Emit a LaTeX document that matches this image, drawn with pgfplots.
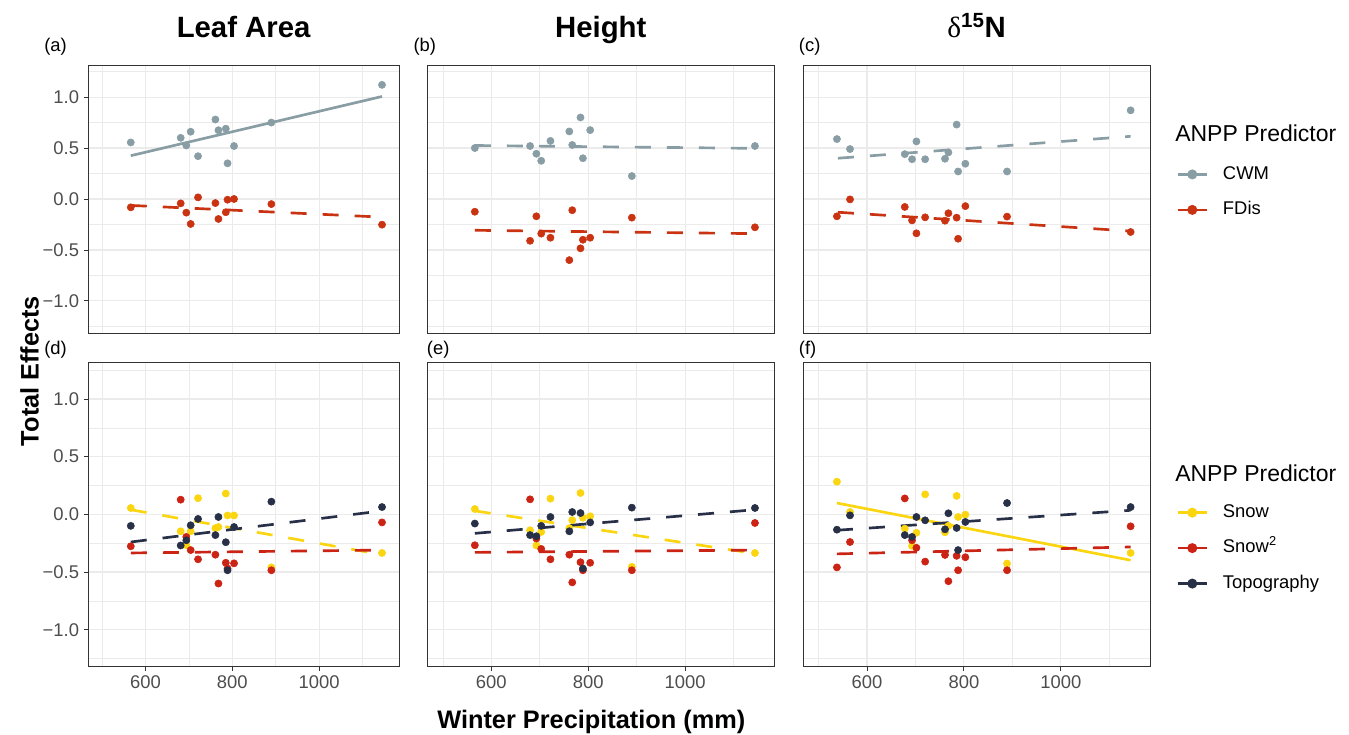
\documentclass[border=0pt]{standalone}
\usepackage{fontspec}
\setmainfont{Liberation Sans}
\newfontfamily\greekserif{Liberation Serif}
\usepackage{pgfplots}
\usepackage{pgfplotstable}
\pgfplotsset{compat=1.18}

\definecolor{cwm}{HTML}{899DA4}
\definecolor{fdis}{HTML}{C93312}
\definecolor{snow}{HTML}{FAD510}
\definecolor{snowsq}{HTML}{CB2314}
\definecolor{topo}{HTML}{273046}
\definecolor{gridc}{HTML}{EBEBEB}
\definecolor{borderc}{HTML}{333333}
\definecolor{tickc}{HTML}{4D4D4D}

% panel (a)-(c): x, CWM, FDis
\pgfplotstableread{
x cwm fdis
566 0.555 -0.082
681 0.600 -0.043
694 0.525 -0.134
704 0.660 -0.245
721 0.420 0.016
761 0.780 -0.040
768 0.675 -0.196
785 0.690 -0.130
789 0.350 -0.007
804 0.520 0.000
890 0.750 -0.050
1145 1.120 -0.252
}\tabA
\pgfplotstableread{
x cwm fdis
566 0.500 -0.125
680 0.520 -0.410
693 0.444 -0.170
703 0.375 -0.340
722 0.570 -0.380
761 0.663 -0.600
767 0.530 -0.110
784 0.800 -0.484
789 0.400 -0.400
804 0.676 -0.380
890 0.225 -0.183
1144 0.520 -0.278
}\tabB
\pgfplotstableread{
x cwm fdis
538 0.588 -0.170
565 0.490 -0.004
678 0.440 -0.078
693 0.390 -0.210
702 0.565 -0.337
720 0.390 -0.180
761 0.395 -0.213
768 0.457 -0.140
785 0.730 -0.183
788 0.270 -0.390
803 0.346 -0.070
889 0.270 -0.173
1144 0.870 -0.324
}\tabC
% panels (d)-(f): x, Snow, Snow^2, Topography
\pgfplotstableread{
x snow snowsq topo
566 0.055 -0.277 -0.100
681 -0.147 0.127 -0.270
694 -0.268 -0.196 -0.225
704 -0.147 -0.310 -0.095
721 0.140 -0.390 -0.040
761 -0.120 -0.350 -0.180
768 -0.110 -0.600 -0.023
785 0.180 -0.420 -0.242
789 -0.010 -0.470 -0.485
804 -0.010 -0.425 -0.110
890 -0.460 -0.485 0.110
1145 -0.335 -0.070 0.063
}\tabD
\pgfplotstableread{
x snow snowsq topo
566 0.046 -0.268 -0.080
680 -0.138 0.130 -0.180
693 -0.270 -0.210 -0.190
703 -0.153 -0.300 -0.100
722 0.136 -0.390 -0.023
761 -0.120 -0.350 -0.147
767 -0.050 -0.590 0.020
784 0.185 -0.415 0.011
789 -0.030 -0.485 -0.470
804 -0.017 -0.420 -0.070
890 -0.455 -0.485 0.058
1144 -0.335 -0.075 0.055
}\tabE
\pgfplotstableread{
x snow snowsq topo
538 0.283 -0.460 -0.133
565 0.020 -0.240 -0.009
678 -0.124 0.138 -0.180
693 -0.274 -0.225 -0.196
702 -0.160 -0.290 -0.023
720 0.173 -0.410 -0.052
761 -0.156 -0.352 -0.130
768 -0.100 -0.580 0.009
785 0.160 -0.360 -0.118
788 -0.023 -0.485 -0.310
803 -0.003 -0.372 -0.066
889 -0.427 -0.485 0.098
1144 -0.335 -0.104 0.063
}\tabF

\newcommand{\ticksize}{\fontsize{13.8}{16}\selectfont}

\pgfplotsset{
  panel/.style={
    scale only axis, width=260.25pt,
    xmin=468, xmax=1184, ymin=-1.315, ymax=1.315,
    xtick={600,800,1000}, ytick={-1,-0.5,0,0.5,1},
    minor xtick={500,700,900,1100},
    minor ytick={-1.25,-0.75,-0.25,0.25,0.75,1.25},
    grid=both,
    major grid style={color=gridc, line width=0.85pt},
    minor grid style={color=gridc, line width=0.45pt},
    axis line style={color=borderc, line width=0.65pt},
    tick align=outside, major tick length=3.4pt, minor tick length=0pt,
    xtick style={draw=none}, ytick style={draw=none},
    xticklabels={}, yticklabels={},
    xtick pos=bottom, ytick pos=left,
    tick label style={font=\ticksize, text=tickc},
    anchor=south west, clip=false,
    legend cell align=left,
    legend style={draw=none, fill=none, font=\ticksize, inner sep=0pt,
      nodes={inner sep=0pt, text height=10pt, text depth=3pt},
      column sep=11pt, row sep=13.6pt},
    legend image code/.code={
      \draw[#1, mark repeat=2, mark phase=2] plot coordinates {(0pt,0pt) (11pt,0pt) (22pt,0pt)};},
  },
  top/.style={height=201pt},
  bottom/.style={height=227.5pt, xticklabels={600,800,1000},
    xtick style={draw=borderc, line width=0.65pt}},
  left/.style={width=233pt, yticklabels={−1.0,−0.5,0.0,0.5,1.0},
    ytick style={draw=borderc, line width=0.65pt}},
  pts/.style={only marks, mark=*, mark size=2.7pt, forget plot},
  fit/.style={no marks, line width=2pt, forget plot},
  ggdash/.style={dash pattern=on 12pt off 12pt},
}

\begin{document}
\begin{tikzpicture}
\path[use as bounding box] (0,0) rectangle (1011.75pt,551.25pt);

% (a) Leaf Area, top
\begin{axis}[panel, top, left, at={(66.2pt,301.5pt)}]
\addplot[pts, color=cwm] table[x=x, y=cwm] {\tabA};
\addplot[pts, color=fdis] table[x=x, y=fdis] {\tabA};
\addplot[fit, color=cwm] coordinates {(566,0.425) (1145,1.006)};
\addplot[fit, ggdash, color=fdis] coordinates {(566,-0.063) (1145,-0.178)};
\end{axis}

% (b) Height, top
\begin{axis}[panel, top, at={(320.5pt,301.5pt)}]
\addplot[pts, color=cwm] table[x=x, y=cwm] {\tabB};
\addplot[pts, color=fdis] table[x=x, y=fdis] {\tabB};
\addplot[fit, ggdash, color=cwm] coordinates {(566,0.525) (1144,0.497)};
\addplot[fit, ggdash, color=fdis] coordinates {(566,-0.307) (1144,-0.340)};
\end{axis}

% (c) d15N, top
\begin{axis}[panel, top, at={(602.25pt,301.5pt)},
  legend style={at={(1.075,0.625)}, anchor=north west}]
\addplot[pts, color=cwm] table[x=x, y=cwm] {\tabC};
\addplot[pts, color=fdis] table[x=x, y=fdis] {\tabC};
\addplot[fit, ggdash, color=cwm] coordinates {(540,0.400) (1144,0.615)};
\addplot[fit, ggdash, color=fdis] coordinates {(540,-0.130) (1144,-0.315)};
\addlegendimage{color=cwm, line width=2pt, mark=*, mark size=2.7pt}
\addlegendentry{CWM}
\addlegendimage{color=fdis, line width=2pt, mark=*, mark size=2.7pt}
\addlegendentry{FDis}
\end{axis}

% (d) Leaf Area, bottom
\begin{axis}[panel, bottom, left, at={(66.2pt,51.75pt)}]
\addplot[pts, color=snow] table[x=x, y=snow] {\tabD};
\addplot[pts, color=snowsq] table[x=x, y=snowsq] {\tabD};
\addplot[pts, color=topo] table[x=x, y=topo] {\tabD};
\addplot[fit, ggdash, color=snow] coordinates {(566,0.040) (1145,-0.350)};
\addplot[fit, ggdash, color=snowsq] coordinates {(566,-0.335) (1145,-0.310)};
\addplot[fit, ggdash, color=topo] coordinates {(566,-0.240) (1145,0.030)};
\end{axis}

% (e) Height, bottom
\begin{axis}[panel, bottom, at={(320.5pt,51.75pt)}]
\addplot[pts, color=snow] table[x=x, y=snow] {\tabE};
\addplot[pts, color=snowsq] table[x=x, y=snowsq] {\tabE};
\addplot[pts, color=topo] table[x=x, y=topo] {\tabE};
\addplot[fit, ggdash, color=snow] coordinates {(566,0.030) (1144,-0.340)};
\addplot[fit, ggdash, color=snowsq] coordinates {(566,-0.330) (1144,-0.310)};
\addplot[fit, ggdash, color=topo] coordinates {(566,-0.165) (1144,0.040)};
\end{axis}

% (f) d15N, bottom
\begin{axis}[panel, bottom, at={(602.25pt,51.75pt)},
  legend style={at={(1.075,0.535)}, anchor=north west}]
\addplot[pts, color=snow] table[x=x, y=snow] {\tabF};
\addplot[pts, color=snowsq] table[x=x, y=snowsq] {\tabF};
\addplot[pts, color=topo] table[x=x, y=topo] {\tabF};
\addplot[fit, color=snow] coordinates {(538,0.098) (1144,-0.398)};
\addplot[fit, ggdash, color=snowsq] coordinates {(538,-0.343) (1144,-0.283)};
\addplot[fit, ggdash, color=topo] coordinates {(538,-0.138) (1144,0.035)};
\addlegendimage{color=snow, line width=2pt, mark=*, mark size=2.7pt}
\addlegendentry{Snow}
\addlegendimage{color=snowsq, line width=2pt, mark=*, mark size=2.7pt}
\addlegendentry{Snow\textsuperscript{2}}
\addlegendimage{color=topo, line width=2pt, mark=*, mark size=2.7pt}
\addlegendentry{Topography}
\end{axis}

% titles, tags, axis titles, legend titles
\begin{scope}[every node/.style={inner sep=0pt}]
\node[anchor=base, font=\fontsize{22}{26}\selectfont\bfseries] at (182.7pt,522.75pt) {Leaf Area};
\node[anchor=base, font=\fontsize{22}{26}\selectfont\bfseries] at (450.6pt,522.75pt) {Height};
\node[anchor=base, font=\fontsize{22}{26}\selectfont\bfseries] at (732.4pt,522.75pt) {{\greekserif\mdseries δ}\textsuperscript{15}N};
\node[anchor=base west, font=\ticksize] at (33pt,512.25pt) {(a)};
\node[anchor=base west, font=\ticksize] at (310pt,512.25pt) {(b)};
\node[anchor=base west, font=\ticksize] at (599pt,512.25pt) {(c)};
\node[anchor=base west, font=\ticksize] at (33pt,285pt) {(d)};
\node[anchor=base west, font=\ticksize] at (320pt,285pt) {(e)};
\node[anchor=base west, font=\ticksize] at (599pt,285pt) {(f)};
\node[rotate=90, anchor=base, font=\fontsize{19}{22}\selectfont\bfseries] at (29pt,273pt) {Total Effects};
\node[anchor=base, font=\fontsize{19}{22}\selectfont\bfseries] at (443.5pt,4.5pt) {Winter Precipitation (mm)};
\node[anchor=base west, font=\fontsize{17.25}{20}\selectfont] at (881.25pt,444.75pt) {ANPP Predictor};
\node[anchor=base west, font=\fontsize{17.25}{20}\selectfont] at (881.25pt,189.75pt) {ANPP Predictor};
\end{scope}
\end{tikzpicture}
\end{document}
